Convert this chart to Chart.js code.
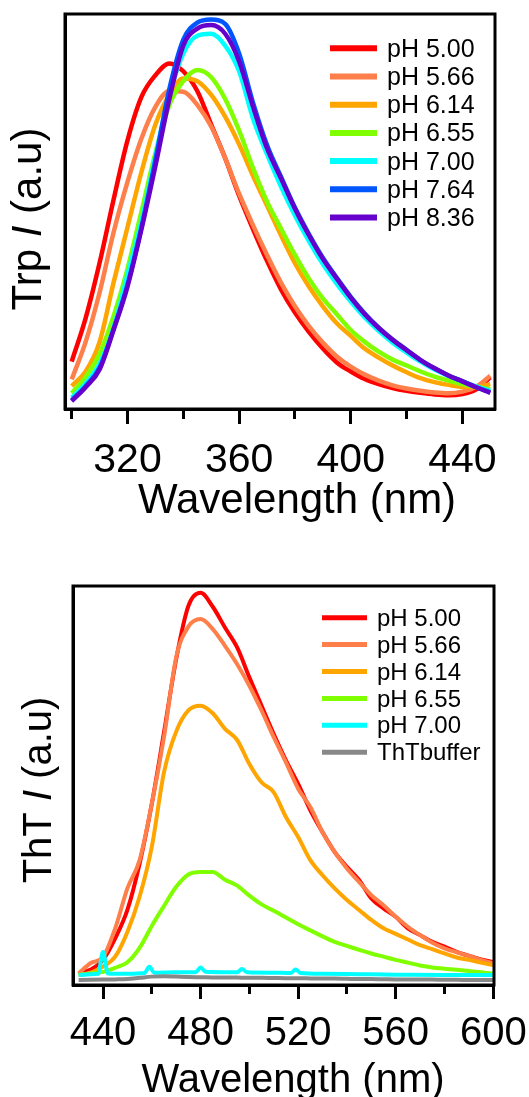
<!DOCTYPE html>
<html>
<head>
<meta charset="utf-8">
<script src="https://cdn.jsdelivr.net/npm/chart.js@4.4.1/dist/chart.umd.min.js"></script>
<style>
  html, body { margin: 0; padding: 0; background: #fff; }
  body { width: 529px; height: 1097px; position: relative; overflow: hidden; }
  canvas { position: absolute; left: 0; }
  #trp-chart { top: 0; }
  #tht-chart { top: 560px; }
</style>
</head>
<body>
<canvas id="trp-chart" width="529" height="550"></canvas>
<canvas id="tht-chart" width="529" height="537"></canvas>
<script>
"use strict";

const FONT = "'Liberation Sans', Arial, sans-serif";

// --- Trp emission (top panel), intensity in % of the plot height
const trpWavelengths = [300, 305, 310, 315, 320, 325, 330, 335, 340, 345, 350, 355, 360, 365, 370, 375,
  380, 385, 390, 395, 400, 405, 410, 415, 420, 425, 430, 435, 440, 445, 450];
const trpTicks = [300, 320, 340, 360, 380, 400, 420, 440];
const trpTickLabels = [320, 360, 400, 440];
const trpLabels = ["pH 5.00", "pH 5.66", "pH 6.14", "pH 6.55", "pH 7.00", "pH 7.64", "pH 8.36"];
const trpColors = ["#ff0000", "#ff7f4a", "#ffa500", "#7fff00", "#00ffff", "#0055ff", "#6600cc"];

const trpPh500 = [12.0, 23.0, 37.0, 53.0, 68.0, 79.0, 84.5, 87.5, 85.5, 80.5, 72.0, 63.5, 54.0, 45.5, 37.5, 30.3,
  24.4, 19.5, 15.3, 11.8, 9.5, 7.6, 6.3, 5.3, 4.6, 4.1, 3.7, 3.5, 3.8, 5.0, 8.0];
const trpPh566 = [7.5, 17.0, 29.5, 44.7, 57.5, 68.5, 76.5, 80.5, 80.3, 77.0, 71.5, 63.5, 54.5, 46.5, 39.0, 32.0,
  26.0, 21.0, 16.8, 13.3, 10.7, 8.7, 7.2, 6.0, 5.2, 4.6, 4.2, 4.0, 4.4, 5.6, 8.4];
const trpPh614 = [5.8, 9.5, 17.0, 32.0, 46.0, 60.0, 72.0, 79.6, 83.7, 83.0, 79.5, 74.0, 67.0, 59.0, 51.5, 44.0,
  36.9, 31.0, 26.0, 21.7, 18.5, 15.3, 13.0, 11.0, 9.3, 7.8, 6.8, 6.1, 5.6, 5.6, 6.3];
const trpPh655 = [4.0, 8.1, 14.0, 23.5, 35.5, 50.0, 64.8, 77.0, 83.0, 85.8, 84.0, 78.5, 70.5, 61.0, 52.5, 45.7,
  39.0, 33.0, 28.0, 24.0, 20.0, 17.0, 14.5, 12.5, 11.0, 9.5, 8.2, 7.2, 6.3, 5.6, 5.0];
const trpPh700 = [2.9, 6.5, 11.5, 20.6, 34.0, 47.5, 64.0, 79.5, 90.0, 94.5, 95.0, 92.0, 85.5, 73.5, 64.5, 56.3,
  49.0, 42.5, 36.7, 31.7, 27.2, 23.2, 19.8, 16.8, 14.3, 12.0, 10.0, 8.4, 7.0, 5.7, 4.6];
const trpPh764 = [2.2, 5.8, 10.5, 20.2, 31.5, 46.0, 63.0, 81.0, 93.5, 97.8, 98.6, 97.5, 90.0, 77.5, 66.8, 58.8,
  51.0, 44.3, 38.3, 33.2, 28.4, 24.2, 20.6, 17.6, 15.0, 12.4, 10.3, 8.5, 7.0, 5.5, 4.2];
const trpPh836 = [2.0, 5.5, 10.0, 20.0, 31.0, 45.5, 61.5, 78.5, 92.0, 96.3, 97.2, 95.0, 88.0, 76.5, 66.0, 58.4,
  50.7, 44.0, 38.0, 33.0, 28.2, 24.0, 20.5, 17.5, 14.9, 12.4, 10.3, 8.5, 7.0, 5.5, 4.1];

// --- ThT emission (bottom panel)
const thtWavelengths = [430, 435, 440, 445, 450, 455, 460, 465, 470, 475, 480, 485, 490, 495, 500, 505, 510,
  515, 520, 525, 530, 535, 540, 545, 550, 555, 560, 565, 570, 575, 580, 585, 590, 595, 600];
const thtCyanWavelengths = [430, 435, 438, 440, 442, 450, 457, 459, 461, 470, 478, 480, 482, 490, 495, 497, 499,
  510, 517, 519, 521, 530, 545, 560, 580, 600];
const thtTicks = [440, 460, 480, 500, 520, 540, 560, 580, 600];
const thtTickLabels = [440, 480, 520, 560, 600];
const thtLabels = ["pH 5.00", "pH 5.66", "pH 6.14", "pH 6.55", "pH 7.00", "ThTbuffer"];
const thtColors = ["#ff0000", "#ff7f4a", "#ffa500", "#7fff00", "#00ffff", "#888888"];

const thtPh500 = [2.9, 3.9, 6.3, 11.7, 18.8, 30.4, 45.4, 63.3, 81.7, 95.0, 98.3, 94.8, 89.6, 84.6, 77.1, 70.0,
  62.9, 56.3, 50.4, 43.8, 38.3, 33.3, 29.6, 26.3, 21.7, 19.2, 17.1, 14.2, 12.5, 10.8, 9.6, 8.3, 7.3, 6.4, 5.8];
const thtPh566 = [2.9, 5.5, 7.0, 14.2, 24.2, 31.3, 45.4, 62.1, 82.1, 89.8, 91.7, 89.2, 85.0, 80.4, 75.0, 68.8,
  62.1, 55.8, 49.2, 44.6, 38.3, 33.3, 29.2, 25.8, 22.5, 20.0, 17.1, 14.6, 12.5, 10.6, 9.2, 8.2, 7.3, 6.3, 5.4];
const thtPh614 = [2.5, 3.1, 4.6, 7.1, 13.3, 22.1, 34.6, 53.3, 63.5, 68.8, 70.0, 68.1, 64.2, 61.4, 55.4, 50.8,
  48.3, 42.1, 37.1, 31.3, 27.5, 24.2, 21.3, 18.8, 16.3, 14.2, 12.8, 11.4, 10.0, 9.0, 7.9, 6.9, 6.3, 5.6, 5.0];
const thtPh655 = [2.5, 2.9, 3.3, 4.3, 5.7, 9.3, 14.8, 19.8, 24.6, 27.7, 28.3, 28.3, 26.4, 24.9, 22.4, 20.2,
  18.6, 16.9, 15.2, 13.7, 12.2, 10.8, 9.8, 8.8, 7.9, 7.1, 6.3, 5.6, 4.9, 4.4, 4.1, 3.8, 3.5, 3.2, 2.8];
const thtPh700 = [2.5, 2.7, 2.8, 8.3, 2.9, 2.8, 3.0, 4.6, 3.1, 3.2, 3.2, 4.4, 3.3, 3.2, 3.2, 4.0, 3.2,
  3.1, 3.0, 3.9, 3.0, 2.8, 2.7, 2.6, 2.5, 2.5];
const thtBuffer = [1.25, 1.3, 1.35, 1.4, 1.5, 1.8, 2.1, 2.2, 2.1, 2.0, 1.95, 1.9, 1.9, 1.85, 1.8, 1.8, 1.75,
  1.7, 1.7, 1.65, 1.6, 1.6, 1.55, 1.5, 1.5, 1.45, 1.4, 1.4, 1.35, 1.35, 1.3, 1.3, 1.25, 1.25, 1.25];

Chart.defaults.font.family = FONT;
Chart.defaults.color = "#000";

// frame, tick labels, legend and axis titles (the y title has an italic "I")
const panelDecor = {
  id: "panelDecor",
  afterDatasetsDraw(chart) {
    const { ctx, chartArea: a } = chart;
    ctx.save();
    ctx.strokeStyle = "#000";
    ctx.lineWidth = 3;
    ctx.strokeRect(a.left, a.top, a.right - a.left, a.bottom - a.top);
    ctx.restore();
  },
  afterDraw(chart, args, opts) {
    const ctx = chart.ctx;
    ctx.save();
    ctx.fillStyle = "#000";

    // tick labels, placed with the x scale
    const tk = opts.tickLabels;
    ctx.font = `${tk.size}px ${FONT}`;
    ctx.textAlign = "center";
    ctx.textBaseline = "alphabetic";
    tk.values.forEach((v) => {
      ctx.fillText(String(v), chart.scales.x.getPixelForValue(v), tk.y);
    });

    // legend
    const lg = opts.legend;
    ctx.font = `${lg.size}px ${FONT}`;
    ctx.textAlign = "left";
    chart.data.datasets.forEach((ds, i) => {
      const y = lg.y + i * lg.dy;
      ctx.strokeStyle = ds.borderColor;
      ctx.lineWidth = lg.lineWidth;
      ctx.beginPath();
      ctx.moveTo(lg.x, y);
      ctx.lineTo(lg.x + lg.lineLength, y);
      ctx.stroke();
      ctx.fillText(ds.label, lg.textX, y + lg.size * 0.34);
    });

    // x title
    const xt = opts.xTitle;
    ctx.font = `${xt.size}px ${FONT}`;
    ctx.textAlign = "center";
    ctx.fillText(xt.text, xt.x, xt.y);

    // y title, rotated
    const yt = opts.yTitle;
    ctx.translate(yt.x, yt.y);
    ctx.rotate(-Math.PI / 2);
    ctx.textAlign = "left";
    ctx.textBaseline = "middle";
    const fonts = yt.parts.map((p) => `${p.italic ? "italic " : ""}${yt.size}px ${FONT}`);
    let total = 0;
    const widths = yt.parts.map((p, i) => {
      ctx.font = fonts[i];
      const w = ctx.measureText(p.text).width;
      total += w;
      return w;
    });
    let x = -total / 2;
    yt.parts.forEach((p, i) => {
      ctx.font = fonts[i];
      ctx.fillText(p.text, x, 0);
      x += widths[i];
    });
    ctx.restore();
  }
};

function makeDataset(label, color, xs, ys, width, index) {
  return {
    label,
    data: ys.map((y, j) => ({ x: xs[j], y })),
    borderColor: color,
    backgroundColor: color,
    borderWidth: width,
    pointRadius: 0,
    cubicInterpolationMode: "monotone",
    order: -index
  };
}

function makeOptions(p) {
  return {
    responsive: false,
    animation: false,
    events: [],
    layout: { padding: p.padding },
    plugins: {
      legend: { display: false },
      tooltip: { enabled: false },
      panelDecor: p.decor
    },
    scales: {
      x: {
        type: "linear",
        min: p.xMin,
        max: p.xMax,
        afterBuildTicks: (scale) => {
          scale.ticks = p.ticks.map((value) => ({ value }));
        },
        ticks: { display: false },
        grid: {
          display: true,
          drawOnChartArea: false,
          drawTicks: true,
          tickLength: p.tickLength,
          tickWidth: 3,
          tickColor: "#000",
          tickBorderDash: (ctx) => (ctx.tick && p.tickLabels.includes(ctx.tick.value) ? [] : [p.minorLength, 100])
        },
        border: { display: true, width: 3, color: "#000" },
        title: { display: false }
      },
      y: {
        min: 0,
        max: 100,
        ticks: { display: false },
        grid: { display: false, drawTicks: false },
        border: { display: true, width: 3, color: "#000" },
        title: { display: false }
      }
    }
  };
}

const trpSeries = [trpPh500, trpPh566, trpPh614, trpPh655, trpPh700, trpPh764, trpPh836];

new Chart(document.getElementById("trp-chart"), {
  type: "line",
  data: {
    datasets: trpSeries.map((values, i) =>
      makeDataset(trpLabels[i], trpColors[i], trpWavelengths, values, 4.5, i))
  },
  options: makeOptions({
    padding: { left: 65, right: 34, top: 14, bottom: 126 },
    xMin: 297.6,
    xMax: 451.7,
    ticks: trpTicks,
    tickLabels: trpTickLabels,
    tickLength: 15,
    minorLength: 8,
    decor: {
      tickLabels: { values: trpTickLabels, y: 471.7, size: 41 },
      legend: { x: 330, lineLength: 47, lineWidth: 6, textX: 387, y: 48.3, dy: 28.2, size: 25 },
      xTitle: { text: "Wavelength (nm)", x: 297, y: 513, size: 42 },
      yTitle: {
        x: 29, y: 219, size: 42,
        parts: [{ text: "Trp " }, { text: "I", italic: true }, { text: " (a.u)" }]
      }
    }
  }),
  plugins: [panelDecor]
});

const thtSeries = [thtPh500, thtPh566, thtPh614, thtPh655];

new Chart(document.getElementById("tht-chart"), {
  type: "line",
  data: {
    datasets: [
      ...thtSeries.map((values, i) =>
        makeDataset(thtLabels[i], thtColors[i], thtWavelengths, values, 4, i)),
      makeDataset(thtLabels[4], thtColors[4], thtCyanWavelengths, thtPh700, 4, 4),
      makeDataset(thtLabels[5], thtColors[5], thtWavelengths, thtBuffer, 4, 5)
    ]
  },
  options: makeOptions({
    padding: { left: 73, right: 35, top: 26, bottom: 98 },
    xMin: 427.7,
    xMax: 600.3,
    ticks: thtTicks,
    tickLabels: thtTickLabels,
    tickLength: 14,
    minorLength: 7,
    decor: {
      tickLabels: { values: thtTickLabels, y: 485, size: 40 },
      legend: { x: 322, lineLength: 45, lineWidth: 5, textX: 377, y: 57.7, dy: 26.9, size: 24 },
      xTitle: { text: "Wavelength (nm)", x: 293, y: 531.7, size: 40 },
      yTitle: {
        x: 40, y: 230, size: 40,
        parts: [{ text: "ThT " }, { text: "I", italic: true }, { text: " (a.u)" }]
      }
    }
  }),
  plugins: [panelDecor]
});
</script>
</body>
</html>
